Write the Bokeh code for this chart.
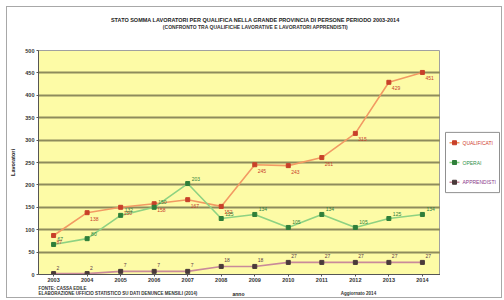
from bokeh.plotting import figure
from bokeh.models import Range1d, FixedTicker, Label, ColumnDataSource
from bokeh.layouts import column, row
from bokeh.core.properties import value
from bokeh.embed import file_html
from bokeh.resources import INLINE

# ---------------- data ----------------
years = ["2003", "2004", "2005", "2006", "2007", "2008",
         "2009", "2010", "2011", "2012", "2013", "2014"]
serie_a = [87, 138, 150, 158, 167, 152, 245, 243, 261, 315, 429, 451]
serie_b = [67, 80, 132, 150, 203, 125, 134, 105, 134, 105, 125, 134]
serie_c = [2, 2, 7, 7, 7, 18, 18, 27, 27, 27, 27, 27]
names = ["QUALIFICATI", "OPERAI", "APPRENDISTI"]
y_ticks = [0, 50, 100, 150, 200, 250, 300, 350, 400, 450, 500]

title1 = "STATO SOMMA LAVORATORI PER QUALIFICA NELLA GRANDE PROVINCIA DI PERSONE PERIODO 2003-2014"
title2 = "(CONFRONTO TRA QUALIFICHE LAVORATIVE E LAVORATORI APPRENDISTI)"
y_title = "Lavoratori"
foot1 = "FONTE: CASSA EDILE"
foot2 = "ELABORAZIONE UFFICIO STATISTICO SU DATI DENUNCE MENSILI (2014)"
x_title = "anno"
foot_right = "Aggiornato 2014"

FONT = "Liberation Sans"
COL_A = ("#F29A63", "#C8402A")
COL_B = ("#8ED282", "#2F7F3A")
COL_C = ("#C98A9A", "#4A3A3A")
LEG_TXT = ["#D0402E", "#2F8F4A", "#8A3A8A"]

TOTAL_W = 494
TOP_H = 39
MAIN_W, MAIN_H = 433, 238
LEG_W = TOTAL_W - MAIN_W
FOOT_H = 13


def blank(w, h):
    f = figure(width=w, height=h, output_backend="svg", toolbar_location=None,
               x_range=Range1d(0, w), y_range=Range1d(0, h),
               min_border=0, x_axis_type=None, y_axis_type=None)
    f.outline_line_color = None
    f.background_fill_color = "white"
    f.border_fill_color = "white"
    f.xgrid.visible = False
    f.ygrid.visible = False
    return f


def lab(f, x, y, text, size, color="#222222", bold=True, align="center"):
    f.add_layout(Label(x=x, y=y, text=text, text_font=FONT,
                       text_font_size=size, text_color=color,
                       text_font_style="bold" if bold else "normal",
                       text_align=align, text_baseline="middle"))


# ---------------- top: titles ----------------
top = blank(TOTAL_W, TOP_H)
lab(top, 248, 27, title1, "5.5px")
lab(top, 248, 20, title2, "5px", "#333333")

# ---------------- main chart ----------------
p = figure(width=MAIN_W, height=MAIN_H, output_backend="svg",
           toolbar_location=None,
           x_range=Range1d(-0.45, 11.54), y_range=Range1d(0, 500),
           min_border_left=31, min_border_right=0,
           min_border_top=4, min_border_bottom=10)
p.background_fill_color = "#FDFBA6"
p.border_fill_color = "white"
p.outline_line_color = "#A0A0A0"
p.outline_line_width = 1

p.xaxis.ticker = FixedTicker(ticks=list(range(len(years))))
p.xaxis.major_label_overrides = {i: y for i, y in enumerate(years)}
p.yaxis.ticker = FixedTicker(ticks=y_ticks)
for ax in (p.xaxis, p.yaxis):
    ax.major_label_text_font = FONT
    ax.major_label_text_font_size = "5.5px"
    ax.major_label_text_font_style = "bold"
    ax.major_label_text_color = "#333333"
    ax.axis_line_color = "#555555"
    ax.major_tick_line_color = "#555555"
    ax.major_tick_in = 0
    ax.major_tick_out = 2
    ax.minor_tick_line_color = None
    ax.major_label_standoff = 2
p.xaxis.major_label_standoff = 1
p.yaxis.axis_label = y_title
p.yaxis.axis_label_text_font = FONT
p.yaxis.axis_label_text_font_size = "5.5px"
p.yaxis.axis_label_text_font_style = "bold"
p.yaxis.axis_label_text_color = "#222222"
p.yaxis.axis_label_standoff = 6
p.xgrid.grid_line_color = None
p.ygrid.grid_line_color = "#8E8B5C"
p.ygrid.grid_line_width = 2

xs = list(range(len(years)))
src = ColumnDataSource(dict(x=xs, a=serie_a, b=serie_b, c=serie_c,
                            ta=[str(v) for v in serie_a],
                            tb=[str(v) for v in serie_b],
                            tc=[str(v) for v in serie_c]))

for key, (lc, mc) in (("a", COL_A), ("b", COL_B), ("c", COL_C)):
    p.line("x", key, source=src, line_color=lc, line_width=1.6)
    p.scatter("x", key, source=src, marker="square", size=4,
              fill_color=mc, line_color=mc)

p.text("x", "a", text="ta", source=src, x_offset=3, y_offset=6,
       text_font=value(FONT), text_font_size="5px", text_color=COL_A[1],
       text_baseline="middle")
p.text("x", "b", text="tb", source=src, x_offset=4, y_offset=-5,
       text_font=value(FONT), text_font_size="5px", text_color=COL_B[1],
       text_baseline="middle")
p.text("x", "c", text="tc", source=src, x_offset=3, y_offset=-6,
       text_font=value(FONT), text_font_size="5px", text_color="#5A3A4A",
       text_baseline="middle")

# ---------------- legend panel ----------------
leg = blank(LEG_W, MAIN_H)
leg.quad(left=[5], right=[59], bottom=[87], top=[151],
         fill_color="white", line_color="#909090", line_width=1)
leg_y = [140, 119, 98]
for (lc, mc), tc, nm, yy in zip((COL_A, COL_B, COL_C), LEG_TXT, names, leg_y):
    leg.segment(x0=[9], y0=[yy], x1=[19], y1=[yy], line_color=lc,
                line_width=1.6)
    leg.scatter(x=[14], y=[yy], marker="square", size=4, fill_color=mc,
                line_color=mc)
    lab(leg, 22, yy, nm, "5px", tc, bold=False, align="left")

# ---------------- footer ----------------
foot = blank(TOTAL_W, FOOT_H)
lab(foot, 31, 9, foot1, "4.5px", "#333333", align="left")
lab(foot, 31, 4, foot2, "4.5px", "#333333", align="left")
lab(foot, 231, 4, x_title, "5px", "#222222")
lab(foot, 351, 4, foot_right, "4.5px", "#333333")

layout = column(top, row(p, leg, spacing=0), foot, spacing=0,
                margin=(6, 0, 0, 6),
                styles={"border": "1px solid #A8A8A8"})

open("out.html", "w").write(file_html(layout, INLINE))
